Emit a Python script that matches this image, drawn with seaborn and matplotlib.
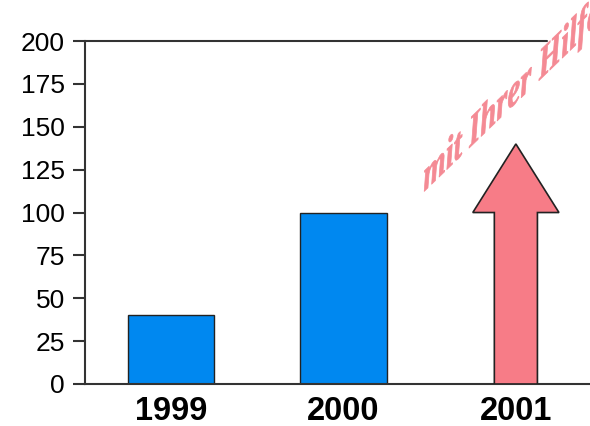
import matplotlib
matplotlib.use("Agg")
import matplotlib.pyplot as plt
from matplotlib.patches import FancyArrow
from matplotlib.patheffects import AbstractPathEffect
from matplotlib.transforms import Affine2D
import pandas as pd
import seaborn as sns

# data
jahre = ["1999", "2000", "2001"]
werte = [40, 100, 140]
arrow_head_len = 40
y_ticks = [0, 25, 50, 75, 100, 125, 150, 175, 200]
slogan = "mit Ihrer Hilfe"

blau = "#0088F0"
rosa = "#F77C87"


class Scheren(AbstractPathEffect):
    """Schrift schmaler machen und schraeg nach oben scheren (WordArt-Effekt)."""

    def __init__(self, sx=0.6, winkel=44, kipp=0, dicke=0.0):
        super().__init__()
        self.sx = sx
        self.winkel = winkel
        self.kipp = kipp
        self.dicke = dicke

    def draw_path(self, renderer, gc, tpath, affine, rgbFace=None):
        t = Affine2D().scale(self.sx, 1).skew_deg(self.kipp, self.winkel) + affine
        gc0 = renderer.new_gc()
        gc0.copy_properties(gc)
        if self.dicke > 0 and rgbFace is not None:
            gc0.set_linewidth(self.dicke)
            gc0.set_foreground(rgbFace)
        renderer.draw_path(gc0, tpath, t, rgbFace)
        gc0.restore()


sns.set_style("white")
plt.rcParams["font.family"] = ["Liberation Sans", "DejaVu Sans"]

fig = plt.figure(figsize=(5.9, 4.26), dpi=100)
ax = fig.add_axes([0.144, 0.0986, 0.856, 0.805])

df = pd.DataFrame({"jahr": jahre[:2], "wert": werte[:2]})
sns.barplot(data=df, x="jahr", y="wert", order=jahre, color=blau,
            width=0.5, edgecolor="#222222", linewidth=1.0, saturation=1, ax=ax)

# Pfeil fuer 2001
pfeil = FancyArrow(2, 0, 0, werte[2], width=0.25, head_width=0.5,
                   head_length=arrow_head_len, length_includes_head=True,
                   facecolor=rosa, edgecolor="#222222", linewidth=1.2, zorder=3)
ax.add_patch(pfeil)

ax.set_xlim(-0.5, 2.43)
ax.set_ylim(0, 200)
ax.set_yticks(y_ticks)
ax.set_yticklabels([str(t) for t in y_ticks], fontsize=19, color="black")
ax.set_xticks(range(3))
ax.set_xticklabels(jahre, fontsize=23.5, fontweight="bold", color="black")
ax.set_xlabel("")
ax.set_ylabel("")

for s in ["top", "right"]:
    ax.spines[s].set_visible(False)
for s in ["left", "bottom"]:
    ax.spines[s].set_color("#333333")
    ax.spines[s].set_linewidth(1.5)
ax.axhline(200, xmin=0, xmax=0.915, color="#333333", linewidth=1.5, clip_on=False)

ax.tick_params(axis="y", left=True, length=8.5, width=1.5, color="#333333", pad=6)
ax.tick_params(axis="x", bottom=False, pad=5)

ax.text(1.465, 112, slogan, fontsize=31, color="#F48A94", style="italic",
        fontweight="bold", family=["Liberation Serif", "DejaVu Serif"],
        ha="left", va="baseline", clip_on=False,
        path_effects=[Scheren(sx=0.67, winkel=44, kipp=-2, dicke=0.5)])

fig.savefig("out.png", dpi=100)
